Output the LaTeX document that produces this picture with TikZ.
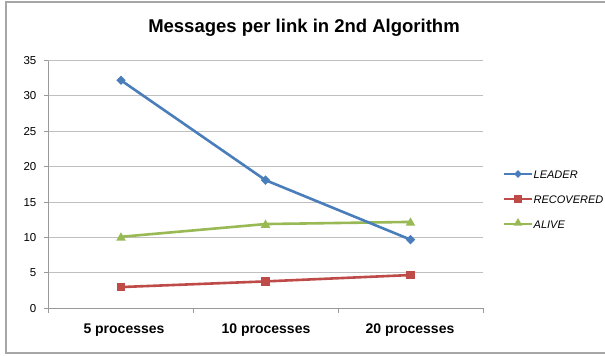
\documentclass[tikz,border=0pt]{standalone}
\usepackage{fontspec}
\setmainfont{Liberation Sans}
\usetikzlibrary{shapes.geometric}
\definecolor{cblue}{HTML}{4A7EBB}
\definecolor{cred}{HTML}{BE4B48}
\definecolor{cgreen}{HTML}{98B954}
\definecolor{cgrid}{HTML}{BFBFBF}
\definecolor{cframe}{HTML}{A6A6A6}
\tikzset{
  gridline/.style={draw=cgrid, line width=0.9},
  axisline/.style={draw=cgrid!80!black, line width=0.9},
  ylab/.style={anchor=east, inner sep=0, font=\fontsize{11.5}{13}\selectfont},
  catlab/.style={anchor=center, inner sep=0, font=\fontsize{14}{16}\selectfont\bfseries},
  leglab/.style={anchor=west, inner sep=0, font=\fontsize{11}{13}\selectfont\itshape},
  dmark/.style={diamond, fill=cblue, inner sep=0, minimum size=9.5},
  smark/.style={rectangle, fill=cred, inner sep=0, minimum size=8.5},
  tmark/.style={regular polygon, regular polygon sides=3, fill=cgreen, inner sep=0, minimum size=11},
  sline/.style={line width=2.6, line join=round},
}
\begin{document}
\begin{tikzpicture}[x=1pt,y=-1pt]
\useasboundingbox (0,0) rectangle (605,356);
% frame
\draw[cframe, line width=1.6] (605,2) -- (6,2) -- (6,353) -- (605,353);
% title
\node[inner sep=0, font=\fontsize{18.5}{21}\selectfont\bfseries] (title) at (304,28) {Messages per link in 2nd Algorithm};
% grid and y labels
\foreach \v in {5,10,...,35} {
  \draw[gridline] (48,{308.3-\v*7.08}) -- (483,{308.3-\v*7.08});
}
\foreach \v in {0,5,...,35} {
  \draw[axisline] (44,{308.3-\v*7.08}) -- (48,{308.3-\v*7.08});
  \node[ylab] (y\v) at (36.5,{308.3-\v*7.08}) {\v};
}
\draw[axisline] (48,60.5) -- (48,308.3) -- (483,308.3);
\foreach \x in {48,193,338,483} {
  \draw[axisline] (\x,308.3) -- (\x,312.5);
}
\node[catlab] (c1) at (124,330.5) {5 processes};
\node[catlab] (c2) at (266,330.5) {10 processes};
\node[catlab] (c3) at (410,330.5) {20 processes};
% series points
\coordinate (L1) at (121,{308.3-32.2*7.08});
\coordinate (L2) at (265.5,{308.3-18.1*7.08});
\coordinate (L3) at (410.5,{308.3-9.7*7.08});
\coordinate (R1) at (121,{308.3-3.0*7.08});
\coordinate (R2) at (265.5,{308.3-3.8*7.08});
\coordinate (R3) at (410.5,{308.3-4.7*7.08});
\coordinate (A1) at (121,{308.3-10.1*7.08});
\coordinate (A2) at (265.5,{308.3-11.9*7.08});
\coordinate (A3) at (410.5,{308.3-12.2*7.08});
\draw[sline, cgreen] (A1) -- (A2) -- (A3);
\draw[sline, cred] (R1) -- (R2) -- (R3);
\draw[sline, cblue] (L1) -- (L2) -- (L3);
\foreach \i in {1,2,3} {
  \node[dmark] (Lm\i) at (L\i) {};
  \node[smark] (Rm\i) at (R\i) {};
  \node[tmark] (Am\i) at ([yshift=-1]A\i) {};
}
% legend
\coordinate (la) at (504,174);
\coordinate (lb) at (532,174);
\draw[sline, cblue] (la) -- (lb);
\node[dmark, minimum size=8] (lm1) at (518,174) {};
\node[leglab] (lt1) at (533.5,174.5) {LEADER};
\coordinate (ra) at (504,199);
\coordinate (rb) at (532,199);
\draw[sline, cred] (ra) -- (rb);
\node[smark, minimum size=8] (lm2) at (518,199) {};
\node[leglab] (lt2) at (533.5,199.5) {RECOVERED};
\coordinate (aa) at (504,224);
\coordinate (ab) at (532,224);
\draw[sline, cgreen] (aa) -- (ab);
\node[tmark, minimum size=10] (lm3) at (518,223) {};
\node[leglab] (lt3) at (533.5,224.5) {ALIVE};
\end{tikzpicture}
\end{document}
